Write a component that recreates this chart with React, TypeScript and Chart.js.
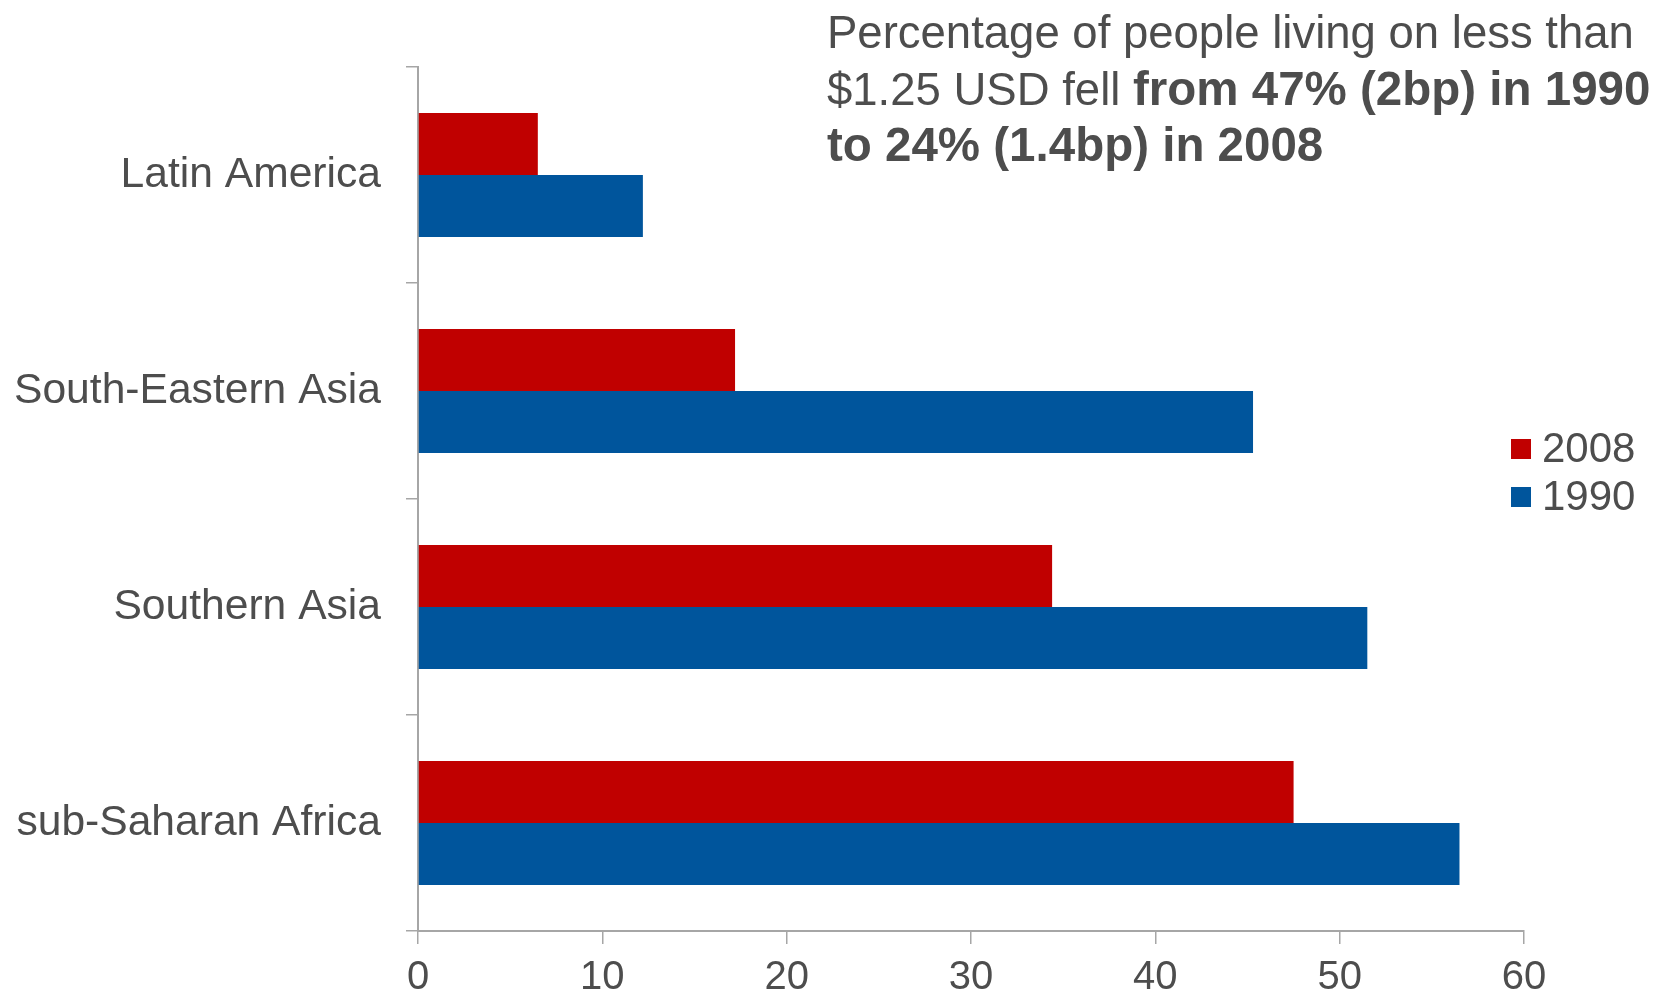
import React, { useEffect, useRef } from "react";
import { Chart, registerables } from "chart.js";

Chart.register(...registerables);

const regions = ["Latin America", "South-Eastern Asia", "Southern Asia", "sub-Saharan Africa"];
const share2008 = [6.5, 17.2, 34.4, 47.5];
const share1990 = [12.2, 45.3, 51.5, 56.5];
const xTicks = [0, 10, 20, 30, 40, 50, 60];

const TEXT = "#4d4d4d";
const AXIS = "#a6a6a6";
const RED = "#c00000";
const BLUE = "#00559c";
const FONT = "'Liberation Sans', Arial, sans-serif";

const headline = {
  id: "headline",
  afterDraw(chart: Chart) {
    const ctx = chart.ctx;
    ctx.save();
    ctx.fillStyle = TEXT;
    ctx.textBaseline = "alphabetic";
    ctx.textAlign = "left";
    const x = 827;
    const regular = `45.5px ${FONT}`;
    const bold = `bold 47.5px ${FONT}`;
    ctx.font = regular;
    ctx.fillText("Percentage of people living on less than", x, 48);
    const lead = "$1.25 USD fell ";
    ctx.fillText(lead, x, 104.5);
    const w = ctx.measureText(lead).width;
    ctx.font = bold;
    ctx.fillText("from 47% (2bp) in 1990", x + w, 104.5);
    ctx.fillText("to 24% (1.4bp) in 2008", x, 161);
    ctx.restore();
  },
};

const sideLegend = {
  id: "sideLegend",
  afterDraw(chart: Chart) {
    const ctx = chart.ctx;
    ctx.save();
    ctx.font = `42px ${FONT}`;
    ctx.textBaseline = "middle";
    ctx.textAlign = "left";
    const rows = [449, 497];
    chart.data.datasets.forEach((ds, i) => {
      const y = rows[i];
      ctx.fillStyle = ds.backgroundColor as string;
      ctx.fillRect(1511, y - 10, 20, 20);
      ctx.fillStyle = TEXT;
      ctx.fillText(String(ds.label), 1542, y + 1);
    });
    ctx.restore();
  },
};

export default function App() {
  const ref = useRef<HTMLCanvasElement | null>(null);

  useEffect(() => {
    if (!ref.current) return;
    const chart = new Chart(ref.current, {
      type: "bar",
      data: {
        labels: regions,
        datasets: [
          { label: "2008", data: share2008, backgroundColor: RED, categoryPercentage: 0.573, barPercentage: 1 },
          { label: "1990", data: share1990, backgroundColor: BLUE, categoryPercentage: 0.573, barPercentage: 1 },
        ],
      },
      options: {
        indexAxis: "y",
        animation: false,
        responsive: false,
        devicePixelRatio: 1,
        layout: { padding: { left: 0, top: 67, right: 133, bottom: 0 } },
        plugins: {
          legend: { display: false },
          tooltip: { enabled: false },
          title: { display: false },
        },
        scales: {
          x: {
            min: 0,
            max: 60,
            afterBuildTicks(scale: any) {
              scale.ticks = xTicks.map((v) => ({ value: v }));
            },
            afterFit(scale: any) {
              scale.height = 69;
            },
            border: { display: true, color: AXIS, width: 2 },
            grid: { drawOnChartArea: false, drawTicks: true, tickLength: 13, color: AXIS, lineWidth: 1.5 },
            ticks: { color: TEXT, font: { family: FONT, size: 40 }, padding: 10, maxRotation: 0 },
          },
          y: {
            afterFit(scale: any) {
              scale.width = 418;
            },
            border: { display: true, color: AXIS, width: 2 },
            grid: { offset: true, drawOnChartArea: false, drawTicks: true, tickLength: 12, color: AXIS, lineWidth: 1.5 },
            ticks: { color: TEXT, font: { family: FONT, size: 42.6 }, padding: 25 },
          },
        },
      },
      plugins: [headline, sideLegend],
    });
    return () => chart.destroy();
  }, []);

  return (
    <div style={{ position: "absolute", left: 0, top: 0, width: 1657, height: 1000, background: "#fff" }}>
      <canvas ref={ref} width={1657} height={1000} />
    </div>
  );
}
